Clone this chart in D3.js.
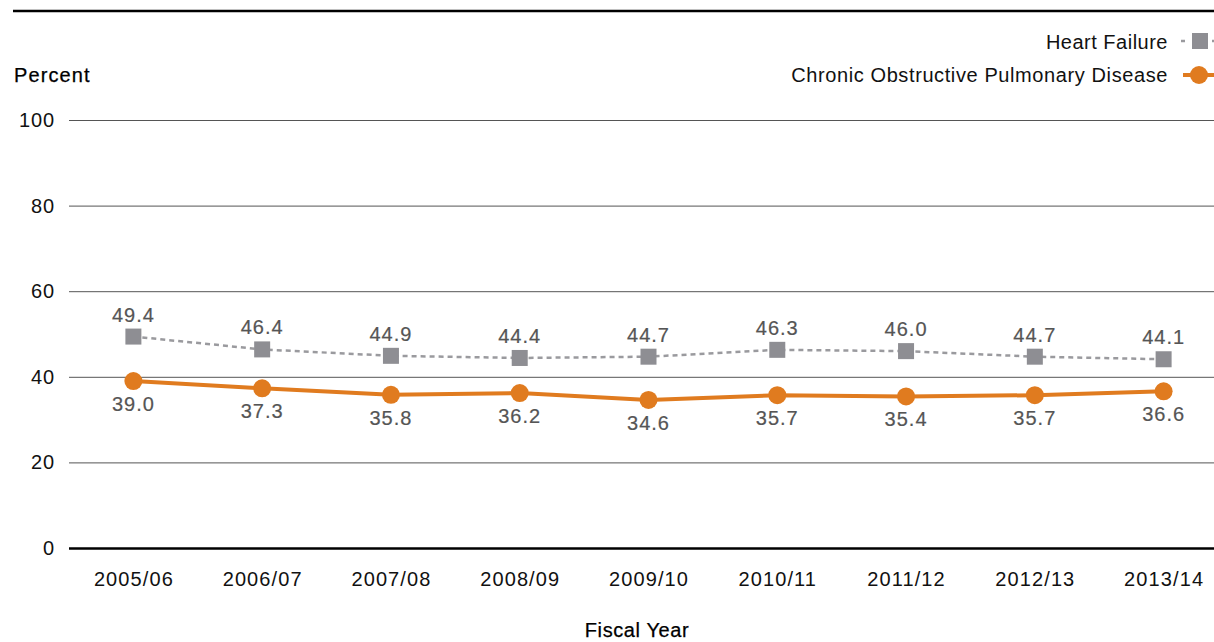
<!DOCTYPE html>
<html>
<head>
<meta charset="utf-8">
<script src="https://cdn.jsdelivr.net/npm/d3@7"></script>
<style>
  body { margin: 0; background: #fff; }
  svg { display: block; font-family: "Liberation Sans", Arial, sans-serif; }
</style>
</head>
<body>
<svg id="chart" width="1214" height="642"></svg>
<script>
// data
const years = ["2005/06", "2006/07", "2007/08", "2008/09", "2009/10", "2010/11", "2011/12", "2012/13", "2013/14"];
const heartFailure = [49.4, 46.4, 44.9, 44.4, 44.7, 46.3, 46.0, 44.7, 44.1];
const copd = [39.0, 37.3, 35.8, 36.2, 34.6, 35.7, 35.4, 35.7, 36.6];
const yTicks = [0, 20, 40, 60, 80, 100];

const hfColor = "#8e8e93";
const copdColor = "#e07b1f";

const svg = d3.select("#chart");

const x = d3.scalePoint().domain(years).range([69, 1228]).padding(0.5);
const y = d3.scaleLinear().domain([0, 100]).range([548, 120]);

// top rule
svg.append("line")
    .attr("x1", 13).attr("x2", 1214)
    .attr("y1", 11).attr("y2", 11)
    .attr("stroke", "#000").attr("stroke-width", 2.5);

// gridlines + y labels
const yAxis = svg.append("g")
    .attr("transform", "translate(69,0)")
    .call(d3.axisLeft(y).tickValues(yTicks).tickSize(0).tickPadding(14));
yAxis.select(".domain").remove();
yAxis.selectAll("text").attr("font-size", 20).attr("letter-spacing", 0.9)
    .attr("fill", "#111").attr("font-family", null);
yAxis.selectAll(".tick").append("line")
    .attr("x1", 0).attr("x2", 1214 - 69)
    .attr("stroke", d => d === 0 ? "#000" : "#555")
    .attr("stroke-width", d => d === 0 ? 2.5 : 1);

// x labels
const xAxis = svg.append("g")
    .attr("transform", "translate(0,548)")
    .call(d3.axisBottom(x).tickSize(0));
xAxis.select(".domain").remove();
xAxis.selectAll("text").attr("y", 38).attr("dy", null)
    .attr("font-size", 20).attr("letter-spacing", 1.1)
    .attr("fill", "#111").attr("font-family", null);

// axis titles
svg.append("text").attr("x", 14).attr("y", 82)
    .attr("font-size", 20).attr("letter-spacing", 1.1).attr("fill", "#000")
    .attr("stroke", "#000").attr("stroke-width", 0.25)
    .text("Percent");
svg.append("text").attr("x", 637).attr("y", 637)
    .attr("text-anchor", "middle")
    .attr("font-size", 20).attr("letter-spacing", 0.6).attr("fill", "#000")
    .attr("stroke", "#000").attr("stroke-width", 0.25)
    .text("Fiscal Year");

const line = d3.line().x((d, i) => x(years[i])).y(d => y(d));

// heart failure
svg.append("path").datum(heartFailure)
    .attr("d", line).attr("fill", "none")
    .attr("stroke", "#9a9a9e").attr("stroke-width", 2.5)
    .attr("stroke-dasharray", "5,4");
svg.append("g").selectAll("rect").data(heartFailure).join("rect")
    .attr("x", (d, i) => x(years[i]) - 8)
    .attr("y", d => y(d) - 8)
    .attr("width", 16).attr("height", 16)
    .attr("fill", hfColor);
svg.append("g").selectAll("text").data(heartFailure).join("text")
    .attr("x", (d, i) => x(years[i]))
    .attr("y", d => y(d) - 15)
    .attr("text-anchor", "middle")
    .attr("font-size", 20).attr("letter-spacing", 1)
    .attr("fill", "#555").attr("stroke", "#555").attr("stroke-width", 0.2)
    .text(d => d.toFixed(1));

// copd
svg.append("path").datum(copd)
    .attr("d", line).attr("fill", "none")
    .attr("stroke", copdColor).attr("stroke-width", 4);
svg.append("g").selectAll("circle").data(copd).join("circle")
    .attr("cx", (d, i) => x(years[i]))
    .attr("cy", d => y(d))
    .attr("r", 9)
    .attr("fill", copdColor);
svg.append("g").selectAll("text").data(copd).join("text")
    .attr("x", (d, i) => x(years[i]))
    .attr("y", d => y(d) + 30)
    .attr("text-anchor", "middle")
    .attr("font-size", 20).attr("letter-spacing", 1)
    .attr("fill", "#555").attr("stroke", "#555").attr("stroke-width", 0.2)
    .text(d => d.toFixed(1));

// legend
const legend = svg.append("g");
legend.append("text").attr("x", 1168).attr("y", 49)
    .attr("text-anchor", "end").attr("font-size", 20).attr("letter-spacing", 0.5)
    .attr("fill", "#111")
    .text("Heart Failure");
legend.append("line").attr("x1", 1181).attr("x2", 1214).attr("y1", 41).attr("y2", 41)
    .attr("stroke", "#9a9a9e").attr("stroke-width", 2.5).attr("stroke-dasharray", "4,27");
legend.append("rect").attr("x", 1192).attr("y", 33).attr("width", 16).attr("height", 16)
    .attr("fill", hfColor);
legend.append("text").attr("x", 1168).attr("y", 82)
    .attr("text-anchor", "end").attr("font-size", 20).attr("letter-spacing", 0.6)
    .attr("fill", "#111")
    .text("Chronic Obstructive Pulmonary Disease");
legend.append("line").attr("x1", 1183).attr("x2", 1214).attr("y1", 75).attr("y2", 75)
    .attr("stroke", copdColor).attr("stroke-width", 4);
legend.append("circle").attr("cx", 1199).attr("cy", 75).attr("r", 9)
    .attr("fill", copdColor);
</script>
</body>
</html>
